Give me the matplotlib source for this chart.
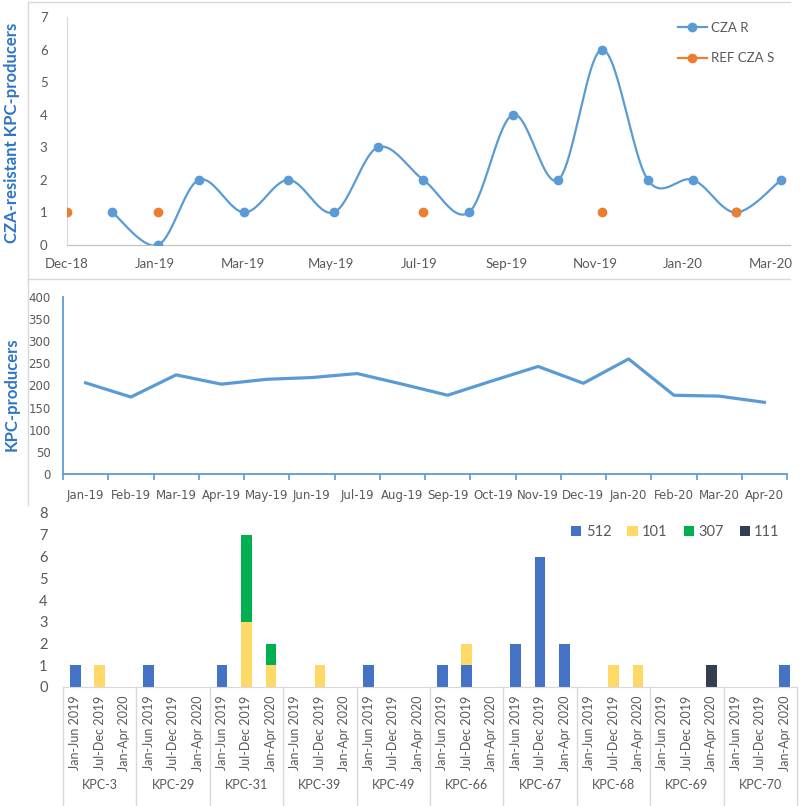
import numpy as np
import matplotlib
matplotlib.use('Agg')
import matplotlib.pyplot as plt
import matplotlib.dates as mdates
from matplotlib.lines import Line2D
from matplotlib.transforms import blended_transform_factory

plt.rcParams['font.family'] = ['Lato', 'DejaVu Sans']

# top panel: CZA-resistant KPC producers per month
cza_r_months = ['2019-01', '2019-02', '2019-03', '2019-04', '2019-05', '2019-06', '2019-07', '2019-08',
                '2019-09', '2019-10', '2019-11', '2019-12', '2020-01', '2020-02', '2020-03', '2020-04']
cza_r = [1, 0, 2, 1, 2, 1, 3, 2, 1, 4, 2, 6, 2, 2, 1, 2]
ref_months = ['2018-12', '2019-02', '2019-08', '2019-12', '2020-03']
ref_s = [1, 1, 1, 1, 1]

# middle panel: all KPC producers per month
kpc_months = ['Jan-19', 'Feb-19', 'Mar-19', 'Apr-19', 'May-19', 'Jun-19', 'Jul-19', 'Aug-19',
              'Sep-19', 'Oct-19', 'Nov-19', 'Dec-19', 'Jan-20', 'Feb-20', 'Mar-20', 'Apr-20']
kpc_counts = [206, 174, 224, 203, 214, 218, 227, 203, 178, 211, 243, 205, 260, 178, 176, 162]

# bottom panel: sequence types per KPC variant and period
kpc_types = ['KPC-3', 'KPC-29', 'KPC-31', 'KPC-39', 'KPC-49', 'KPC-66', 'KPC-67', 'KPC-68', 'KPC-69', 'KPC-70']
periods = ['Jan-Jun 2019', 'Jul-Dec 2019', 'Jan-Apr 2020']
st_names = ['512', '101', '307', '111']
st512 = [1, 0, 0, 1, 0, 0, 1, 0, 0, 0, 0, 0, 1, 0, 0, 1, 1, 0, 2, 6, 2, 0, 0, 0, 0, 0, 0, 0, 0, 1]
st101 = [0, 1, 0, 0, 0, 0, 0, 3, 1, 0, 1, 0, 0, 0, 0, 0, 1, 0, 0, 0, 0, 0, 1, 1, 0, 0, 0, 0, 0, 0]
st307 = [0, 0, 0, 0, 0, 0, 0, 4, 1, 0, 0, 0, 0, 0, 0, 0, 0, 0, 0, 0, 0, 0, 0, 0, 0, 0, 0, 0, 0, 0]
st111 = [0, 0, 0, 0, 0, 0, 0, 0, 0, 0, 0, 0, 0, 0, 0, 0, 0, 0, 0, 0, 0, 0, 0, 0, 0, 0, 1, 0, 0, 0]

BLUE = '#5B9BD5'
ORANGE = '#ED7D31'
GRAY = '#595959'
LABEL_BLUE = '#2E75C6'
st_colors = ['#4472C4', '#FFD966', '#00B050', '#333F50']


def smooth(x, y, n=30):
    '''
    Excel-like smoothed line (Catmull-Rom through the points)
    '''
    p = np.column_stack([x, y]).astype(float)
    p = np.vstack([p[0], p, p[-1]])
    out = []
    for i in range(1, len(p) - 2):
        p0, p1, p2, p3 = p[i - 1], p[i], p[i + 1], p[i + 2]
        c1 = p1 + (p2 - p0) / 6
        c2 = p2 - (p3 - p1) / 6
        t = np.linspace(0, 1, n)[:, None]
        seg = (1 - t) ** 3 * p1 + 3 * (1 - t) ** 2 * t * c1 + 3 * (1 - t) * t ** 2 * c2 + t ** 3 * p2
        out.append(seg)
    out = np.vstack(out)
    return out[:, 0], out[:, 1]


fig = plt.figure(figsize=(8, 8.06), dpi=100)
W, H = 800, 806


def box(l, t, r, b):
    return [l / W, 1 - b / H, (r - l) / W, (b - t) / H]


# frames around the upper two charts
fig.add_artist(Line2D([28 / W, 790 / W], [1 - 2 / H, 1 - 2 / H], color='#D9D9D9', lw=1))
fig.add_artist(Line2D([28 / W, 790 / W], [1 - 279 / H, 1 - 279 / H], color='#D9D9D9', lw=1))
fig.add_artist(Line2D([28 / W, 28 / W], [1 - 2 / H, 1 - 505 / H], color='#D9D9D9', lw=1))

# ---- top chart
ax1 = fig.add_axes(box(67, 17, 790, 245))
start = np.datetime64('2018-12-01')
xr = np.array([np.datetime64(m + '-01') for m in cza_r_months])
xs = np.array([np.datetime64(m + '-01') for m in ref_months])
xr_num = mdates.date2num(xr)
xs_num = mdates.date2num(xs)
sx, sy = smooth(xr_num, cza_r)
ax1.plot(sx, sy, color=BLUE, lw=1.6, zorder=2)
ax1.plot(xr_num, cza_r, 'o', color=BLUE, ms=6, zorder=3)
ax1.plot(xs_num, ref_s, 'o', color=ORANGE, ms=6, zorder=4)
ticks = mdates.date2num(np.array([start + 60 * k for k in range(9)]))
ax1.set_xticks(ticks)
ax1.xaxis.set_major_formatter(mdates.DateFormatter('%b-%y'))
ax1.set_xlim(mdates.date2num(start), mdates.date2num(start) + 493)
ax1.set_ylim(0, 7)
ax1.set_yticks(range(8))
for s in ['top', 'right']:
    ax1.spines[s].set_visible(False)
ax1.spines['left'].set_color('#D9D9D9')
ax1.spines['bottom'].set_color('#BFBFBF')
ax1.tick_params(length=0, colors=GRAY, labelsize=9.5)
ax1.tick_params(axis='y', pad=14)
ax1.tick_params(axis='x', pad=9)
handles = [Line2D([], [], color=BLUE, marker='o', ms=6, lw=1.6),
           Line2D([], [], color=ORANGE, marker='o', ms=6, lw=1.6)]
fig.legend(handles, ['CZA R', 'REF CZA S'], loc='upper left', bbox_to_anchor=(666 / W, 1 - 10 / H),
           frameon=False, fontsize=9.5, labelspacing=1.4, handlelength=2.2, handletextpad=0.3,
           labelcolor=GRAY)
fig.text(12 / W, 1 - 133 / H, 'CZA-resistant KPC-producers', rotation=90, ha='center', va='center',
         color=LABEL_BLUE, fontsize=12, fontweight='bold')

# ---- middle chart
ax2 = fig.add_axes(box(63, 297, 787, 474))
xm = np.arange(len(kpc_months))
ax2.plot(xm, kpc_counts, color=BLUE, lw=2.3)
ax2.set_xlim(-0.5, len(kpc_months) - 0.5)
ax2.set_ylim(0, 400)
ax2.set_yticks(range(0, 401, 50))
ax2.set_xticks(xm)
ax2.set_xticklabels(kpc_months)
ax2.set_xticks(np.arange(-0.5, len(kpc_months)), minor=True)
for s in ['top', 'right']:
    ax2.spines[s].set_visible(False)
for s in ['left', 'bottom']:
    ax2.spines[s].set_color(BLUE)
    ax2.spines[s].set_linewidth(1.3)
ax2.tick_params(axis='x', which='major', length=0, pad=11)
ax2.tick_params(axis='x', which='minor', length=4, color=BLUE, width=1.2)
ax2.tick_params(axis='y', length=0, pad=9)
ax2.tick_params(colors=GRAY, labelsize=8.5)
for lab in ax2.get_xticklabels() + ax2.get_yticklabels():
    lab.set_family(['Liberation Sans Narrow', 'DejaVu Sans'])
fig.text(12 / W, 1 - 394 / H, 'KPC-producers', rotation=90, ha='center', va='center',
         color=LABEL_BLUE, fontsize=12, fontweight='bold')

# ---- bottom chart
ax3 = fig.add_axes(box(63, 513, 797, 687))
xb = np.arange(len(kpc_types) * len(periods))
bottom = np.zeros(len(xb))
bars = []
for name, vals, col in zip(st_names, [st512, st101, st307, st111], st_colors):
    b = ax3.bar(xb, vals, width=0.44, bottom=bottom, color=col, label=name)
    bars.append(b)
    bottom = bottom + np.array(vals)
ax3.set_xlim(-0.5, len(xb) - 0.5)
ax3.set_ylim(0, 8)
ax3.set_yticks(range(9))
ax3.set_xticks(xb)
ax3.set_xticklabels(periods * len(kpc_types), rotation=90)
for s in ['top', 'right', 'left']:
    ax3.spines[s].set_visible(False)
ax3.spines['bottom'].set_color('#D9D9D9')
ax3.tick_params(axis='x', length=0, pad=6, labelsize=9, colors=GRAY)
ax3.tick_params(axis='y', length=0, pad=11, labelsize=10.5, colors=GRAY)
trans = blended_transform_factory(ax3.transData, ax3.transAxes)
drop = (806 - 687) / 174
for g in range(len(kpc_types) + 1):
    ax3.plot([g * 3 - 0.5, g * 3 - 0.5], [0, -drop], color='#D9D9D9', lw=1, transform=trans, clip_on=False)
for g, name in enumerate(kpc_types):
    ax3.text(g * 3 + 1, -(785 - 687) / 174, name, transform=trans, ha='center', va='center',
             fontsize=9, color=GRAY)
fig.legend(bars, st_names, loc='center left', bbox_to_anchor=(558 / W, 1 - 532 / H), ncol=4,
           frameon=False, fontsize=10.5, handlelength=0.7, handleheight=0.7, handletextpad=0.3,
           columnspacing=1.1, labelcolor=GRAY)

fig.savefig('out.png', dpi=100)
